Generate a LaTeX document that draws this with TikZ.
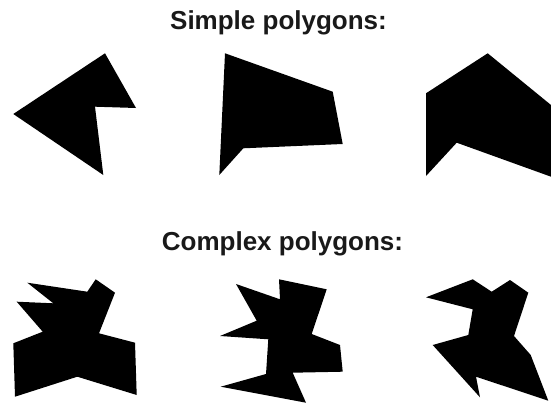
\documentclass[tikz,border=0pt]{standalone}
\usepackage{fontspec}
\setmainfont{Liberation Sans}
\begin{document}
\begin{tikzpicture}[x=1pt,y=-1pt,
  poly/.style={fill=black,draw=none},
  title/.style={anchor=base,inner sep=0pt,font=\fontsize{26}{30}\selectfont\bfseries,text=black!90}]
\useasboundingbox[fill=white] (0,0) rectangle (551,404);
\node[title] (t1) at (278.5,29.5) {Simple polygons:};
\node[title] (t2) at (282.5,250) {Complex polygons:};
% simple
\fill[poly] (105,53.3) -- (136,108) -- (95,106.7) -- (103.3,175) -- (13.3,114) -- cycle;
\fill[poly] (225,53.3) -- (332.7,91.7) -- (342.7,144) -- (243.3,148.3) -- (219.3,175) -- cycle;
\fill[poly] (426,93.3) -- (487.7,53.3) -- (551,105) -- (551,176.7) -- (456.7,142.7) -- (426,176) -- cycle;
% complex
\fill[poly] (27.3,282.7) -- (87.3,291.7) -- (95.7,279.3) -- (115,292.7) -- (99,333.3) -- (135,342.7) -- (136.7,395) -- (77.3,376.7) -- (15,396.7) -- (13.3,343.3) -- (42.7,331.7) -- (16.7,301.7) -- (53.3,303.3) -- cycle;
\fill[poly] (236,284) -- (280,299.3) -- (279,279.3) -- (326.7,289.3) -- (311.7,334) -- (340,345) -- (342.7,371.7) -- (292.7,372.7) -- (306,402.7) -- (220.7,386.7) -- (266,374) -- (268.3,339.3) -- (220,336) -- (256.7,320.7) -- cycle;
\fill[poly] (426,297.3) -- (472.7,279.3) -- (491.7,291.7) -- (510,280) -- (528.3,292.7) -- (514,336) -- (530.7,355) -- (548.3,400.7) -- (476,376.7) -- (480,397.3) -- (432.7,345) -- (468.3,335) -- (472.7,309.3) -- cycle;
\end{tikzpicture}
\end{document}
